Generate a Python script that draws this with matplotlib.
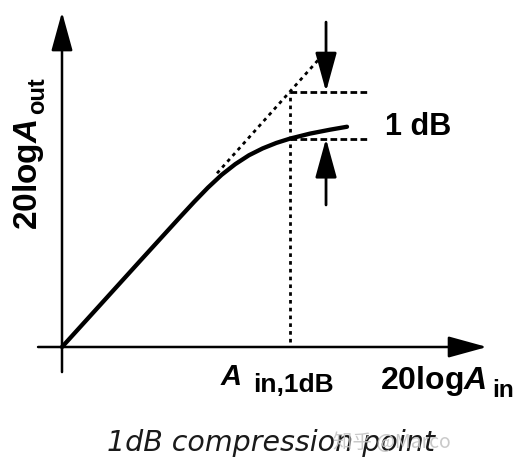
import matplotlib
matplotlib.use("Agg")
import matplotlib.pyplot as plt

plt.rcParams['font.family'] = ['Liberation Sans', 'DejaVu Sans']
plt.rcParams['mathtext.fontset'] = 'custom'
plt.rcParams['mathtext.rm'] = 'Liberation Sans:bold'
plt.rcParams['mathtext.it'] = 'Liberation Sans:bold:italic'
plt.rcParams['mathtext.bf'] = 'Liberation Sans:bold'

# ---- data (arbitrary dB units, origin at axes crossing) ----
input_db = [0.0, 1.67, 3.42, 5.18, 5.8, 6.4, 7.0, 7.6, 8.2, 8.8, 9.4,
            10.0, 10.88, 11.75, 12.5]
output_db = [0.0, 1.84, 3.77, 5.70, 6.37, 6.99, 7.55, 8.02, 8.41, 8.71, 8.95,
             9.14, 9.36, 9.53, 9.66]
ideal_x = [6.8, 11.3]
ideal_y = [7.62, 12.66]
p1db_in = 10.0
p1db_ideal_out = 11.2
p1db_actual_out = 9.14
guide_end_x = 13.5
arrow_x = 11.58
arrow_down_start = 14.25
arrow_up_start = 6.23
x_axis_range = [-1.05, 18.64]
y_axis_range = [-1.10, 14.69]

# ---- figure ----
W, H = 520, 459
fig = plt.figure(figsize=(W / 100, H / 100), dpi=100)
ax = fig.add_axes([0, 0, 1, 1])
U, X0, Y0 = 22.8, 62, 347
ax.set_xlim(-X0 / U, (W - X0) / U)
ax.set_ylim((Y0 - H) / U, Y0 / U)
ax.axis('off')

def arrow(start, end, lw=2.0):
    ax.annotate('', xy=end, xytext=start,
                arrowprops=dict(arrowstyle='-|>,head_length=1.2,head_width=0.33',
                                mutation_scale=20, lw=lw, color='black',
                                shrinkA=0, shrinkB=0), zorder=3)

# axes
arrow((x_axis_range[0], 0), (x_axis_range[1], 0), lw=1.8)
arrow((0, y_axis_range[0]), (0, y_axis_range[1]), lw=1.8)

# curve
ax.plot(input_db, output_db, color='black', lw=3.1, solid_capstyle='round',
        solid_joinstyle='round', zorder=4)

dot = (0, (1.3, 1.5))
dash = (0, (2.4, 1.2))
ax.plot(ideal_x, ideal_y, color='black', lw=2.0, linestyle=dot,
        dash_capstyle='butt', zorder=2)
ax.plot([p1db_in, p1db_in], [0.2, p1db_ideal_out], color='black', lw=2.0,
        linestyle=dot, dash_capstyle='butt', zorder=2)
ax.plot([p1db_in, guide_end_x], [p1db_ideal_out, p1db_ideal_out], color='black',
        lw=2.0, linestyle=dash, dash_capstyle='butt', zorder=2)
ax.plot([p1db_in, guide_end_x], [p1db_actual_out, p1db_actual_out], color='black',
        lw=2.0, linestyle=dash, dash_capstyle='butt', zorder=2)

arrow((arrow_x, arrow_down_start), (arrow_x, p1db_ideal_out))
arrow((arrow_x, arrow_up_start), (arrow_x, p1db_actual_out))

# ---- text (pixel positions -> figure coords) ----
def fx(px):
    return px / W

def fy(py):
    return 1 - py / H

fig.text(fx(385), fy(135), '1 dB', fontsize=22, fontweight='bold',
         ha='left', va='baseline')
fig.text(fx(380), fy(389), r'$\mathrm{20log}A$', fontsize=23,
         ha='left', va='baseline')
fig.text(fx(492), fy(397), 'in', fontsize=17.5, fontweight='bold',
         ha='left', va='baseline')
fig.text(fx(221), fy(385), 'A', fontsize=21, fontweight='bold', style='italic',
         ha='left', va='baseline')
fig.text(fx(253), fy(392), 'in,1dB', fontsize=19, fontweight='bold',
         ha='left', va='baseline')
fig.text(fx(37), fy(230), r'$\mathrm{20log}A$', fontsize=24,
         rotation=90, rotation_mode='anchor', ha='left', va='baseline')
fig.text(fx(44), fy(114), 'out', fontsize=17, fontweight='bold',
         rotation=90, rotation_mode='anchor', ha='left', va='baseline')
fig.text(fx(107), fy(451), '1dB compression point', fontsize=20.5,
         family='DejaVu Sans', style='oblique', color='#1a1a1a',
         ha='left', va='baseline')
fig.text(fx(333), fy(443), '知乎 @Marco', fontsize=14,
         family=['Noto Sans CJK SC', 'DejaVu Sans'], color='#c4c4c4', alpha=0.9,
         ha='left', va='center')

fig.savefig('out.png', dpi=100, facecolor='white')
